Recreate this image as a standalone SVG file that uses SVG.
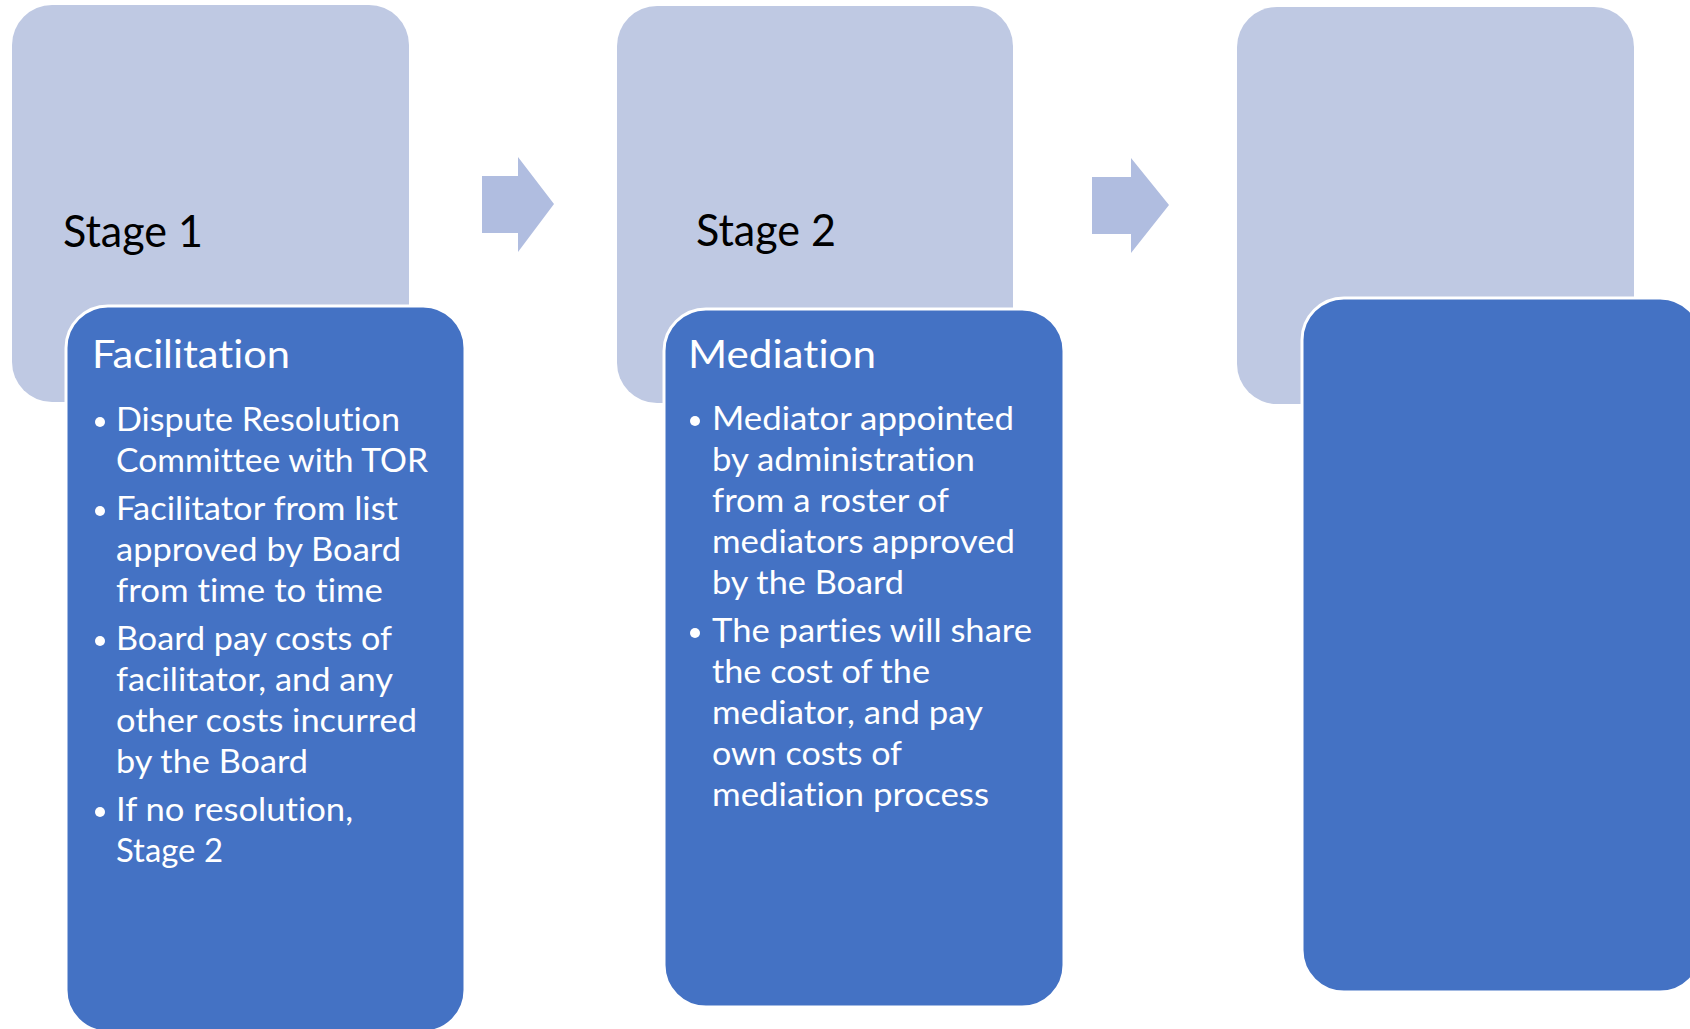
<svg xmlns="http://www.w3.org/2000/svg" width="1690" height="1029" viewBox="0 0 1690 1029">
<style>
.light{fill:#BFC9E3}
.dark{fill:#4472C4;stroke:#FFFFFF;stroke-width:3}
.arrow{fill:#B0BDE0}
text{font-variant-ligatures:none;font-feature-settings:"liga" 0}
.stage{font-family:Lato,"Liberation Sans",sans-serif;font-size:44px;fill:#000000}
.title{font-family:Lato,"Liberation Sans",sans-serif;font-size:39px;fill:#FFFFFF}
.body{font-family:Lato,"Liberation Sans",sans-serif;font-size:33px;fill:#FFFFFF}
.bullet{fill:#FFFFFF}
</style>
<rect width="1690" height="1029" fill="#FFFFFF"/>
<g id="connectors">
<polygon class="arrow" points="482,176 518,176 518,157 554,204 518,252 518,233 482,233"/>
<polygon class="arrow" points="1092,177 1131,177 1131,158 1169,205 1131,253 1131,234 1092,234"/>
</g>
<g id="stage1">
<rect class="light" x="12" y="5" width="397" height="397" rx="40"/>
<text class="stage" x="63" y="247" textLength="140" lengthAdjust="spacingAndGlyphs">Stage 1</text>
</g>
<g id="facilitation">
<rect class="dark" x="66" y="306" width="399" height="726" rx="42"/>
<text class="title" x="92" y="368" textLength="198" lengthAdjust="spacingAndGlyphs">Facilitation</text>
<circle class="bullet" cx="100" cy="422" r="5"/>
<text class="body" x="116" y="431" textLength="284" lengthAdjust="spacingAndGlyphs">Dispute Resolution</text>
<text class="body" x="116" y="472" textLength="312" lengthAdjust="spacingAndGlyphs">Committee with TOR</text>
<circle class="bullet" cx="100" cy="511" r="5"/>
<text class="body" x="116" y="520" textLength="282" lengthAdjust="spacingAndGlyphs">Facilitator from list</text>
<text class="body" x="116" y="561" textLength="285" lengthAdjust="spacingAndGlyphs">approved by Board</text>
<text class="body" x="116" y="602" textLength="267" lengthAdjust="spacingAndGlyphs">from time to time</text>
<circle class="bullet" cx="100" cy="641" r="5"/>
<text class="body" x="116" y="650" textLength="276" lengthAdjust="spacingAndGlyphs">Board pay costs of</text>
<text class="body" x="116" y="691" textLength="277" lengthAdjust="spacingAndGlyphs">facilitator, and any</text>
<text class="body" x="116" y="732" textLength="301" lengthAdjust="spacingAndGlyphs">other costs incurred</text>
<text class="body" x="116" y="773" textLength="192" lengthAdjust="spacingAndGlyphs">by the Board</text>
<circle class="bullet" cx="100" cy="812" r="5"/>
<text class="body" x="116" y="821" textLength="237" lengthAdjust="spacingAndGlyphs">If no resolution,</text>
<text class="body" x="116" y="862" textLength="107" lengthAdjust="spacingAndGlyphs">Stage 2</text>
</g>
<g id="stage2">
<rect class="light" x="617" y="6" width="396" height="397" rx="40"/>
<text class="stage" x="696" y="246" textLength="140" lengthAdjust="spacingAndGlyphs">Stage 2</text>
</g>
<g id="mediation">
<rect class="dark" x="664" y="309" width="400" height="698" rx="42"/>
<text class="title" x="688" y="368" textLength="188" lengthAdjust="spacingAndGlyphs">Mediation</text>
<circle class="bullet" cx="695" cy="421" r="5"/>
<text class="body" x="712" y="430" textLength="302" lengthAdjust="spacingAndGlyphs">Mediator appointed</text>
<text class="body" x="712" y="471" textLength="263" lengthAdjust="spacingAndGlyphs">by administration</text>
<text class="body" x="712" y="512" textLength="237" lengthAdjust="spacingAndGlyphs">from a roster of</text>
<text class="body" x="712" y="553" textLength="303" lengthAdjust="spacingAndGlyphs">mediators approved</text>
<text class="body" x="712" y="594" textLength="192" lengthAdjust="spacingAndGlyphs">by the Board</text>
<circle class="bullet" cx="695" cy="633" r="5"/>
<text class="body" x="712" y="642" textLength="320" lengthAdjust="spacingAndGlyphs">The parties will share</text>
<text class="body" x="712" y="683" textLength="218" lengthAdjust="spacingAndGlyphs">the cost of the</text>
<text class="body" x="712" y="724" textLength="271" lengthAdjust="spacingAndGlyphs">mediator, and pay</text>
<text class="body" x="712" y="765" textLength="190" lengthAdjust="spacingAndGlyphs">own costs of</text>
<text class="body" x="712" y="806" textLength="277" lengthAdjust="spacingAndGlyphs">mediation process</text>
</g>
<g id="stage3">
<rect class="light" x="1237" y="7" width="397" height="397" rx="40"/>
</g>
<g id="stage3-detail">
<rect class="dark" x="1302" y="298" width="400" height="694" rx="42"/>
</g>
</svg>
